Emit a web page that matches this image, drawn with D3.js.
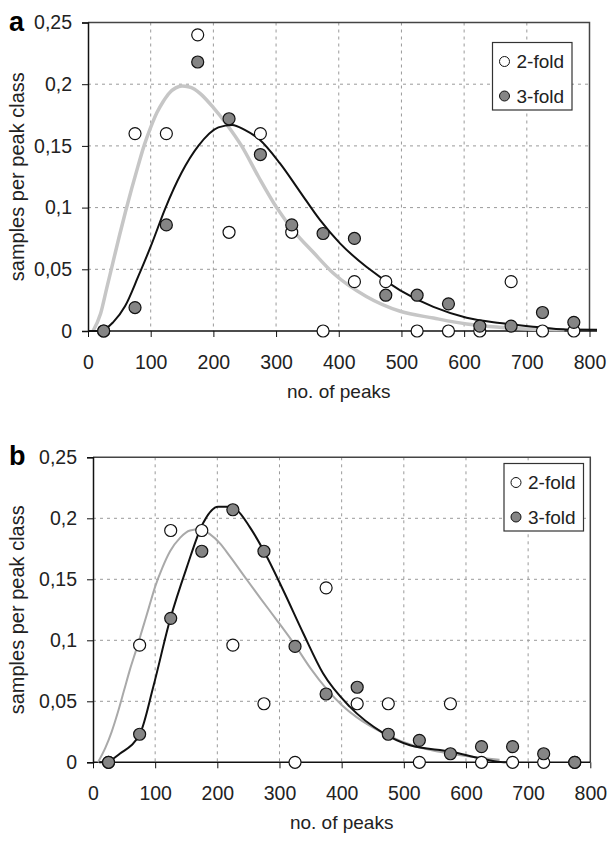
<!DOCTYPE html>
<html lang="en">
    <head>
        <meta charset="utf-8">
        <title>Peaks per sample</title>
        <script src="https://cdnjs.cloudflare.com/ajax/libs/d3/7.8.5/d3.min.js"></script>
        <style>
            body { margin: 0; background: #fff; }
            text { font-family: "Liberation Sans", Arial, sans-serif; fill: #222; }
        </style>
    </head>
    <body>
        <svg width="609" height="842"></svg>
        <script type="text/javascript">
            // class mid points (no. of peaks)
            var classMid = [25, 75, 125, 175, 225, 275, 325, 375, 425, 475, 525, 575, 625, 675, 725, 775];

            // panel a: samples per peak class
            var twoFoldA = [0, 0.16, 0.16, 0.24, 0.08, 0.16, 0.08, 0, 0.04, 0.04, 0, 0, 0, 0.04, 0, 0];
            var threeFoldA = [0, 0.019, 0.086, 0.218, 0.172, 0.143, 0.086, 0.079, 0.075, 0.029, 0.029, 0.022, 0.004, 0.004, 0.015, 0.007];

            // panel b: samples per peak class
            var twoFoldB = [0, 0.096, 0.19, 0.19, 0.096, 0.048, 0, 0.143, 0.048, 0.048, 0, 0.048, 0, 0, 0, 0];
            var threeFoldB = [0, 0.023, 0.118, 0.173, 0.207, 0.173, 0.095, 0.056, 0.0615, 0.023, 0.018, 0.007, 0.0128, 0.0128, 0.007, 0];

            // fitted curves as [peaks, value]
            var fitTwoA = [[8, 0], [20, 0.014], [30, 0.035], [40, 0.056], [50, 0.077], [60, 0.097], [70, 0.116],
                [80, 0.134], [90, 0.151], [100, 0.165], [110, 0.177], [120, 0.186], [130, 0.193], [140, 0.197],
                [150, 0.1985], [160, 0.198], [170, 0.196], [180, 0.192], [200, 0.181], [222, 0.167], [245, 0.15],
                [272, 0.125], [301, 0.1], [330, 0.08], [359, 0.064], [391, 0.047], [444, 0.028], [498, 0.016],
                [551, 0.0105], [604, 0.0057], [657, 0.003], [710, 0.0015], [760, 0.001]];
            var fitThreeA = [[0, 0], [20, 0], [40, 0.007], [59, 0.02], [80, 0.044], [102, 0.071], [123, 0.099],
                [149, 0.128], [176, 0.15], [208, 0.165], [230, 0.167], [250, 0.163], [274, 0.155], [306, 0.136],
                [338, 0.113], [370, 0.09], [402, 0.071], [444, 0.052], [498, 0.033], [551, 0.0195], [604, 0.0108],
                [657, 0.0065], [710, 0.0035], [763, 0.0012], [812, 0.001]];
            var fitTwoB = [[8, 0], [20, 0.012], [30, 0.025], [40, 0.041], [50, 0.059], [60, 0.077], [70, 0.093],
                [80, 0.11], [90, 0.127], [100, 0.144], [112, 0.16], [124, 0.173], [140, 0.184], [156, 0.19],
                [172, 0.191], [188, 0.187], [205, 0.179], [220, 0.169], [247, 0.15], [270, 0.134], [295, 0.117],
                [325, 0.096], [350, 0.077], [376, 0.06], [400, 0.047], [424, 0.037], [467, 0.024], [520, 0.013],
                [577, 0.007], [654, 0.002]];
            var fitThreeB = [[10, 0], [20, 0], [43, 0.007], [76, 0.024], [97, 0.062], [124, 0.117], [151, 0.16],
                [177, 0.196], [201, 0.2095], [220, 0.2095], [231, 0.207], [252, 0.193], [274, 0.174], [306, 0.141],
                [338, 0.106], [370, 0.073], [413, 0.0456], [467, 0.024], [510, 0.014], [577, 0.0087], [625, 0.003],
                [665, 0], [680, 0]];

            var xTicks = [0, 100, 200, 300, 400, 500, 600, 700, 800];
            var yTicks = [0, 0.05, 0.1, 0.15, 0.2, 0.25];
            var seriesNames = ["2-fold", "3-fold"];

            var svg = d3.select("svg");

            // comma as decimal mark
            var fmtY = function(d) { return String(d).replace(".", ","); };

            var panels = [
                {letter: "a", left: 88, right: 589.5, top: 22.5, bottom: 331, axisEnd: 812,
                 two: twoFoldA, three: threeFoldA, fitTwo: fitTwoA, fitThree: fitThreeA,
                 grayColor: "#c6c6c6", grayWidth: 3.5, legendX: 492.5, legendY: 42.5},
                {letter: "b", left: 93, right: 590.3, top: 457.3, bottom: 762.3, axisEnd: 800,
                 two: twoFoldB, three: threeFoldB, fitTwo: fitTwoB, fitThree: fitThreeB,
                 grayColor: "#a9a9a9", grayWidth: 2, legendX: 504, legendY: 463.5}
            ];

            panels.forEach(function(p) {
                var x = d3.scaleLinear().domain([0, 800]).range([p.left, p.right]);
                var y = d3.scaleLinear().domain([0, 0.25]).range([p.bottom, p.top]);
                var g = svg.append("g");

                // grid lines
                g.selectAll(".vgrid")
                  .data(xTicks.slice(1, -1))
                  .enter().append("line")
                    .attr("x1", function(d) { return x(d); })
                    .attr("x2", function(d) { return x(d); })
                    .attr("y1", p.top)
                    .attr("y2", p.bottom)
                    .attr("stroke", "#9a9a9a")
                    .attr("stroke-dasharray", "3,4");
                g.selectAll(".hgrid")
                  .data(yTicks.slice(1, -1))
                  .enter().append("line")
                    .attr("x1", p.left)
                    .attr("x2", p.right)
                    .attr("y1", function(d) { return y(d); })
                    .attr("y2", function(d) { return y(d); })
                    .attr("stroke", "#9a9a9a")
                    .attr("stroke-dasharray", "3,4");

                // top and right frame
                g.append("path")
                  .attr("d", "M" + p.left + "," + p.top + "H" + p.right + "V" + p.bottom)
                  .attr("fill", "none")
                  .attr("stroke", "#444")
                  .attr("stroke-width", 1.5);

                // x axis
                var xAxis = d3.axisBottom(x)
                    .tickValues(xTicks)
                    .tickSize(6)
                    .tickPadding(18)
                    .tickFormat(d3.format("d"));
                var gx = g.append("g")
                  .attr("transform", "translate(0," + p.bottom + ")")
                  .call(xAxis);
                gx.select(".domain").remove();
                gx.append("line")
                  .attr("x1", p.left).attr("x2", x(p.axisEnd))
                  .attr("stroke", "#111").attr("stroke-width", 1.5);
                gx.selectAll(".tick line").attr("stroke", "#111").attr("y1", 0);
                gx.selectAll("text")
                  .attr("font-size", 19.5)
                  .attr("fill", "#222")
                  .style("font-family", "'Liberation Sans', Arial, sans-serif");

                // y axis
                var yAxis = d3.axisLeft(y)
                    .tickValues(yTicks)
                    .tickSize(6)
                    .tickPadding(10)
                    .tickFormat(fmtY);
                var gy = g.append("g")
                  .attr("transform", "translate(" + p.left + ",0)")
                  .call(yAxis);
                gy.select(".domain").attr("stroke", "#111").attr("stroke-width", 1.5);
                gy.selectAll(".tick line").attr("stroke", "#111");
                gy.selectAll("text")
                  .attr("font-size", 19.5)
                  .attr("fill", "#222")
                  .style("font-family", "'Liberation Sans', Arial, sans-serif");

                // axis titles
                g.append("text")
                  .attr("x", (p.left + p.right) / 2)
                  .attr("y", p.bottom + 67)
                  .attr("text-anchor", "middle")
                  .attr("font-size", 19)
                  .text("no. of peaks");
                g.append("text")
                  .attr("transform", "translate(24," + (p.top + p.bottom) / 2 + ") rotate(-90)")
                  .attr("text-anchor", "middle")
                  .attr("font-size", 20)
                  .text("samples per peak class");

                // panel letter
                g.append("text")
                  .attr("x", 9)
                  .attr("y", p.top + 8)
                  .attr("font-size", 27)
                  .attr("font-weight", "bold")
                  .style("fill", "#000")
                  .text(p.letter);

                // fitted curves
                var line = d3.line()
                    .x(function(d) { return x(d[0]); })
                    .y(function(d) { return y(d[1]); })
                    .curve(d3.curveMonotoneX);
                g.append("path")
                  .datum(p.fitTwo)
                  .attr("d", line)
                  .attr("fill", "none")
                  .attr("stroke", p.grayColor)
                  .attr("stroke-width", p.grayWidth);
                g.append("path")
                  .datum(p.fitThree)
                  .attr("d", line)
                  .attr("fill", "none")
                  .attr("stroke", "#111")
                  .attr("stroke-width", 2);

                // data points
                g.selectAll(".two")
                  .data(p.two)
                  .enter().append("circle")
                    .attr("cx", function(d, i) { return x(classMid[i]); })
                    .attr("cy", function(d) { return y(d); })
                    .attr("r", 6)
                    .attr("fill", "#fff")
                    .attr("stroke", "#111")
                    .attr("stroke-width", 1.2);
                g.selectAll(".three")
                  .data(p.three)
                  .enter().append("circle")
                    .attr("cx", function(d, i) { return x(classMid[i]); })
                    .attr("cy", function(d) { return y(d); })
                    .attr("r", 6)
                    .attr("fill", "#858585")
                    .attr("stroke", "#111")
                    .attr("stroke-width", 1.2);

                // legend
                var lg = g.append("g")
                  .attr("transform", "translate(" + p.legendX + "," + p.legendY + ")");
                lg.append("rect")
                  .attr("width", 79.5)
                  .attr("height", 67.5)
                  .attr("fill", "#fff")
                  .attr("stroke", "#333")
                  .attr("stroke-width", 1.2);
                lg.selectAll("circle")
                  .data(seriesNames)
                  .enter().append("circle")
                    .attr("cx", 12)
                    .attr("cy", function(d, i) { return 19 + i * 34.5; })
                    .attr("r", 5)
                    .attr("fill", function(d, i) { return i ? "#858585" : "#fff"; })
                    .attr("stroke", "#111");
                lg.selectAll("text")
                  .data(seriesNames)
                  .enter().append("text")
                    .attr("x", 24)
                    .attr("y", function(d, i) { return 19 + i * 34.5; })
                    .attr("dy", "0.35em")
                    .attr("font-size", 19)
                    .text(function(d) { return d; });
            });
        </script>
    </body>
</html>
